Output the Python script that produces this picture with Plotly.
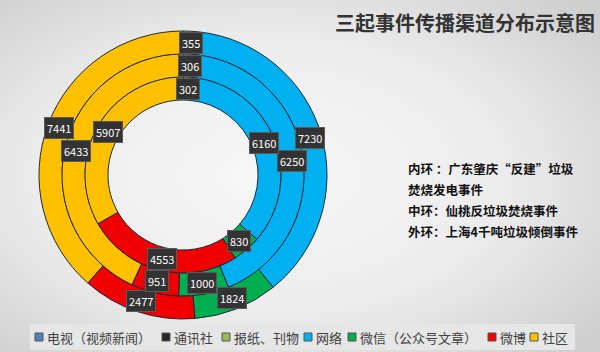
import base64
import math
import plotly.graph_objects as go

# ---------------- data ----------------
categories = ["电视（视频新闻）", "通讯社", "报纸、刊物", "网络", "微信（公众号文章）", "微博", "社区"]
inner_ring = [0, 0, 302, 6160, 830, 4553, 5907]    # 广东肇庆“反建”垃圾焚烧发电事件
middle_ring = [0, 0, 306, 6250, 1000, 951, 6433]   # 仙桃反垃圾焚烧事件
outer_ring = [0, 0, 355, 7230, 1824, 2477, 7441]   # 上海4千吨垃圾倾倒事件
colors = ["#4F81BD", "#262626", "#9BBB59", "#00B0F0", "#00B050", "#F00000", "#FFC000"]

title_text = "三起事件传播渠道分布示意图"
note_lines = ["内环 ：广东肇庆“反建”垃圾", "焚烧发电事件", "中环：仙桃反垃圾焚烧事件", "外环：上海4千吨垃圾倾倒事件"]

# ---------------- layout geometry ----------------
W, H = 600, 352
CX, CY = 183, 175          # pixel centre of rings (from top-left)
R_OUT, R_MID, R_IN, R_HOLE = 144, 121, 98, 75
FONT = "Noto Sans CJK SC"


def dom(r):
    return dict(x=[(CX - r) / W, (CX + r) / W],
                y=[(H - CY - r) / H, (H - CY + r) / H])


fig = go.Figure()
annotations = []

rings = [(outer_ring, R_OUT, R_MID), (middle_ring, R_MID, R_IN), (inner_ring, R_IN, R_HOLE)]
for vals, r_o, r_i in rings:
    idx = [i for i, v in enumerate(vals) if v > 0]
    fig.add_trace(go.Pie(
        labels=[categories[i] for i in idx],
        values=[vals[i] for i in idx],
        marker=dict(colors=[colors[i] for i in idx], line=dict(color="#1b2b3c", width=1)),
        hole=r_i / r_o, sort=False, direction="clockwise", rotation=0,
        textinfo="none", hoverinfo="label+value", showlegend=False,
        domain=dom(r_o),
    ))
    # value labels at slice mid-angle, ring mid-radius
    total = sum(vals[i] for i in idx)
    acc = 0.0
    rm = (r_o + r_i) / 2
    for i in idx:
        mid = (acc + vals[i] / 2) / total * 2 * math.pi
        acc += vals[i]
        px = CX + rm * math.sin(mid)
        py = CY - rm * math.cos(mid)
        annotations.append(dict(
            x=px / W, y=1 - py / H, xref="paper", yref="paper",
            text=str(vals[i]), showarrow=False,
            font=dict(family=FONT, size=11, color="white"),
            bgcolor="#333333", bordercolor="#5a5a5a", borderwidth=1, borderpad=2,
            xanchor="center", yanchor="middle",
        ))

# title
annotations.append(dict(x=465 / W, y=1 - 22 / H, xref="paper", yref="paper", text=f"<b>{title_text}</b>",
                        showarrow=False, font=dict(family=FONT, size=20, color="#333333"),
                        xanchor="center", yanchor="middle"))

# right-side notes
note_y = [168, 189, 210, 231]
for t, yy in zip(note_lines, note_y):
    annotations.append(dict(x=406 / W, y=1 - yy / H, xref="paper", yref="paper", text=f"<b>{t}</b>",
                            showarrow=False, font=dict(family=FONT, size=12.5, color="#111111"),
                            xanchor="left", yanchor="middle"))

# custom legend
shapes = [dict(type="rect", xref="paper", yref="paper", x0=30 / W, x1=575 / W, y0=1 - 350 / H, y1=1 - 324 / H,
               fillcolor="#e6e6e6", line=dict(width=0), layer="below")]
leg_x = [35, 162, 222, 304, 348, 488, 530]
LY = 337
for name, col, lx in zip(categories, colors, leg_x):
    shapes.append(dict(type="rect", xref="paper", yref="paper",
                       x0=lx / W, x1=(lx + 8) / W, y0=1 - (LY + 4) / H, y1=1 - (LY - 4) / H,
                       fillcolor=col, line=dict(color="#555555", width=1)))
    annotations.append(dict(x=(lx + 10) / W, y=1 - LY / H, xref="paper", yref="paper", text=name,
                            showarrow=False, font=dict(family=FONT, size=13, color="#404040"),
                            xanchor="left", yanchor="middle"))

# background radial gradient
svg = f'''<svg xmlns="http://www.w3.org/2000/svg" width="{W}" height="{H}">
<defs><radialGradient id="g" cx="0.45" cy="0.5" r="0.7">
<stop offset="0" stop-color="#f7f7f7"/><stop offset="0.55" stop-color="#ececec"/><stop offset="1" stop-color="#cfcfcf"/>
</radialGradient></defs><rect width="100%" height="100%" fill="url(#g)"/></svg>'''
src = "data:image/svg+xml;base64," + base64.b64encode(svg.encode()).decode()

fig.update_layout(
    width=W, height=H, margin=dict(l=0, r=0, t=0, b=0),
    paper_bgcolor="#e8e8e8", plot_bgcolor="rgba(0,0,0,0)",
    showlegend=False, annotations=annotations, shapes=shapes,
    images=[dict(source=src, xref="paper", yref="paper", x=0, y=1, sizex=1, sizey=1,
                 sizing="stretch", layer="below", xanchor="left", yanchor="top")],
)

fig.write_html("out.html")
